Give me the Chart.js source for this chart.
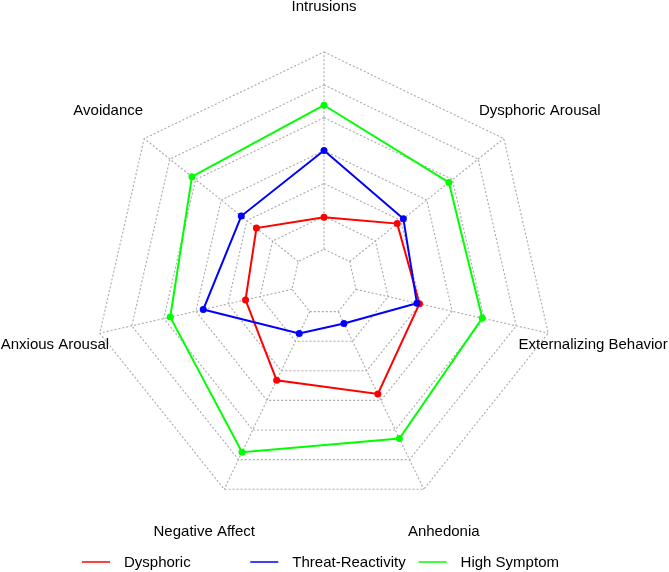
<!DOCTYPE html>
<html>
<head>
<meta charset="utf-8">
<title>Radar</title>
<script src="https://cdn.jsdelivr.net/npm/chart.js@4"></script>
<style>
  body { margin: 0; background: #fff; }
  canvas { display: block; }
</style>
</head>
<body>
<canvas id="chart" width="669" height="572"></canvas>
<script>
// -------- DATA --------
const categories = ["Intrusions", "Dysphoric Arousal", "Externalizing Behavior", "Anhedonia", "Negative Affect", "Anxious Arousal", "Avoidance"];
const seriesNames = ["Dysphoric", "Threat-Reactivity", "High Symptom"];
const seriesColors = ["#ff0000", "#0000ff", "#00ff00"];

const dysphoric = [0.97, 1.85, 1.98, 2.78, 2.32, 1.45, 1.63];
const threatReactivity = [3.0, 2.09, 1.90, 0.40, 0.74, 2.77, 2.22];
const highSymptom = [4.38, 3.86, 3.94, 4.29, 4.75, 3.80, 4.14];

// rings at 0..6, the axis minimum sits one step inside the first ring
const ringTicks = [0, 1, 2, 3, 4, 5, 6];
const axisMin = -1;

const FONT = "15px 'Liberation Sans', Arial, sans-serif";
const GRID = "#a9a9a9";
const DASH = [2, 2];

// -------- PLUGINS --------
// spokes only from the inner ring outwards
const spokes = {
  id: "spokes",
  beforeDatasetsDraw(chart) {
    const s = chart.scales.r;
    const ctx = chart.ctx;
    const r0 = s.getDistanceFromCenterForValue(ringTicks[0]);
    const r1 = s.getDistanceFromCenterForValue(ringTicks[ringTicks.length - 1]);
    ctx.save();
    ctx.strokeStyle = GRID;
    ctx.lineWidth = 1.1;
    ctx.setLineDash(DASH);
    categories.forEach((c, i) => {
      const a = s.getPointPosition(i, r0);
      const b = s.getPointPosition(i, r1);
      ctx.beginPath();
      ctx.moveTo(a.x, a.y);
      ctx.lineTo(b.x, b.y);
      ctx.stroke();
    });
    ctx.restore();
  }
};

// axis labels centred at 1.2 x radius, plus the legend row
const labelsAndLegend = {
  id: "labelsAndLegend",
  afterDraw(chart) {
    const s = chart.scales.r;
    const ctx = chart.ctx;
    ctx.save();
    ctx.font = FONT;
    ctx.fillStyle = "#000";
    ctx.textAlign = "center";
    ctx.textBaseline = "middle";
    chart.data.labels.forEach((lab, i) => {
      const p = s.getPointPosition(i, s.drawingArea * 1.2);
      ctx.fillText(lab, p.x, p.y + 1);
    });

    ctx.textAlign = "left";
    chart.data.datasets.forEach((ds, i) => {
      const x = 82 + i * 168.3;
      const y = 562;
      ctx.strokeStyle = ds.borderColor;
      ctx.lineWidth = 1.5;
      ctx.beginPath();
      ctx.moveTo(x, y);
      ctx.lineTo(x + 28, y);
      ctx.stroke();
      ctx.fillText(ds.label, x + 42, y + 1);
    });
    ctx.restore();
  }
};

// -------- CHART --------
const seriesData = [dysphoric, threatReactivity, highSymptom];

const chart = new Chart(document.getElementById("chart"), {
  type: "radar",
  data: {
    labels: categories,
    datasets: seriesData.map((d, i) => ({
      label: seriesNames[i],
      data: d,
      borderColor: seriesColors[i],
      backgroundColor: seriesColors[i],
      pointBackgroundColor: seriesColors[i],
      pointBorderColor: seriesColors[i],
      borderWidth: 2,
      pointRadius: 3.5,
      pointBorderWidth: 0,
      fill: false,
      tension: 0,
      order: 3 - i
    }))
  },
  options: {
    responsive: false,
    animation: false,
    layout: { padding: { left: 94, right: 115, top: 52, bottom: 60 } },
    plugins: { legend: { display: false }, tooltip: { enabled: false } },
    scales: {
      r: {
        min: axisMin,
        max: ringTicks[ringTicks.length - 1],
        ticks: { display: false, stepSize: 1 },
        pointLabels: { display: false },
        angleLines: { display: false },
        grid: { color: GRID, lineWidth: 1.1, circular: false, borderDash: DASH },
        border: { dash: DASH }
      }
    }
  },
  plugins: [spokes, labelsAndLegend]
});
</script>
</body>
</html>
